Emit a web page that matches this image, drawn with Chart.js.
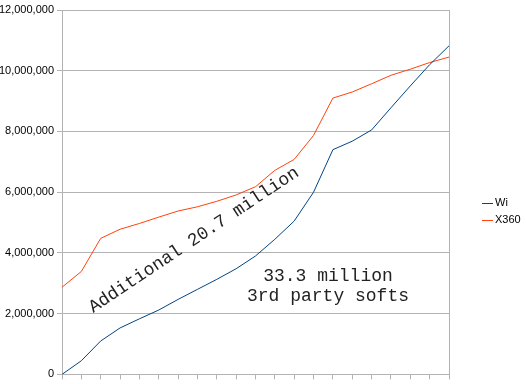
<!DOCTYPE html>
<html>
<head>
<meta charset="utf-8">
<script src="https://cdn.jsdelivr.net/npm/chart.js@4/dist/chart.umd.min.js"></script>
<style>
  html, body { margin: 0; padding: 0; background: #fff; }
  #wrap { width: 526px; height: 384px; }
</style>
</head>
<body>
<div id="wrap"><canvas id="sales"></canvas></div>
<script>
// one point per period, no labels shown on the x axis
const categories = ['', '', '', '', '', '', '', '', '', '', '', '', '', '', '', '', '', '', '', '', ''];
const wiiSales = [0, 450000, 1100000, 1530000, 1830000, 2120000, 2470000, 2800000, 3130000, 3480000,
  3900000, 4450000, 5050000, 6000000, 7400000, 7680000, 8050000, 8780000, 9500000, 10200000, 10820000];
const x360Sales = [2870000, 3390000, 4480000, 4780000, 4970000, 5180000, 5380000, 5520000, 5700000, 5910000,
  6180000, 6720000, 7080000, 7870000, 9100000, 9300000, 9570000, 9850000, 10050000, 10270000, 10450000];
const seriesNames = ['Wi', 'X360'];
const seriesColors = ['#004586', '#ff420e'];
const yMax = 12000000;
const yStep = 2000000;

const gridGray = '#b3b3b3';
const noteFont = '"Courier New", "Nimbus Mono PS", "Nimbus Mono L", FreeMono, Courier, "Liberation Mono", monospace';

// frame on the right + legend + the two notes
const extras = {
  id: 'extras',
  afterDraw(chart) {
    const ctx = chart.ctx;
    const a = chart.chartArea;
    ctx.save();
    ctx.strokeStyle = gridGray;
    ctx.lineWidth = 1;
    ctx.beginPath();
    ctx.moveTo(Math.round(a.right) + 0.5, a.top);
    ctx.lineTo(Math.round(a.right) + 0.5, a.bottom);
    ctx.stroke();

    // legend
    ctx.font = '11px "Liberation Sans", Arial, sans-serif';
    ctx.textBaseline = 'middle';
    seriesNames.forEach((name, i) => {
      const y = 203 + i * 17;
      ctx.strokeStyle = seriesColors[i];
      ctx.beginPath();
      ctx.moveTo(482, y + 0.5);
      ctx.lineTo(493, y + 0.5);
      ctx.stroke();
      ctx.fillStyle = '#000';
      ctx.fillText(name, 495, y);
    });

    // notes
    ctx.fillStyle = '#222';
    ctx.font = '18px ' + noteFont;
    ctx.textAlign = 'center';
    ctx.textBaseline = 'alphabetic';
    ctx.fillText('33.3 million', 328, 281);
    ctx.fillText('3rd party softs', 328, 301);

    ctx.translate(194, 240);
    ctx.rotate(-33.7 * Math.PI / 180);
    ctx.textBaseline = 'middle';
    ctx.fillText('Additional 20.7 million', 0, 0);
    ctx.restore();
  }
};

new Chart(document.getElementById('sales'), {
  type: 'line',
  data: {
    labels: categories,
    datasets: [
      { label: seriesNames[0], data: wiiSales, borderColor: seriesColors[0], borderWidth: 1, pointRadius: 0, tension: 0, fill: false },
      { label: seriesNames[1], data: x360Sales, borderColor: seriesColors[1], borderWidth: 1, pointRadius: 0, tension: 0, fill: false }
    ]
  },
  options: {
    responsive: true,
    maintainAspectRatio: false,
    animation: false,
    layout: { padding: { top: 10, right: 77, left: 0, bottom: 0 } },
    plugins: {
      legend: { display: false },
      tooltip: { enabled: false }
    },
    scales: {
      x: {
        offset: false,
        grid: { drawOnChartArea: false, color: gridGray, tickLength: 5 },
        border: { color: gridGray },
        ticks: { display: false },
        afterFit(scale) { scale.height = 8; }
      },
      y: {
        min: 0,
        max: yMax,
        grid: { color: gridGray, tickLength: 5 },
        border: { color: gridGray },
        ticks: {
          stepSize: yStep,
          padding: 3,
          color: '#000',
          font: { family: '"Liberation Sans", Arial, sans-serif', size: 11 },
          callback: v => v.toLocaleString('en-US')
        },
        afterFit(scale) { scale.width = 62; }
      }
    }
  },
  plugins: [extras]
});
</script>
</body>
</html>
